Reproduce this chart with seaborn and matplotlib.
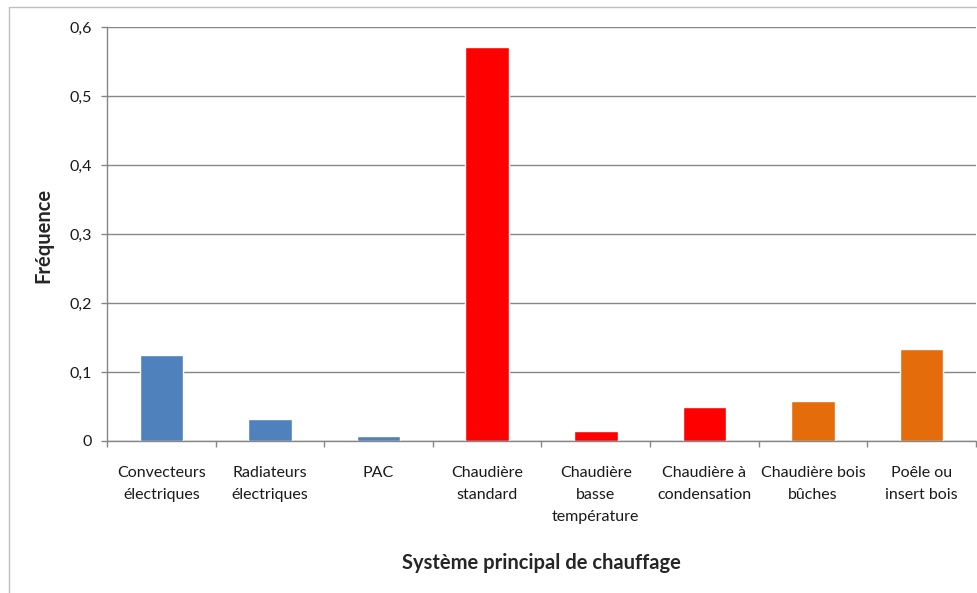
import matplotlib
matplotlib.use("Agg")
import matplotlib.pyplot as plt
from matplotlib.ticker import FuncFormatter, FixedLocator
from matplotlib.lines import Line2D
import seaborn as sns
import pandas as pd

categories = ["Convecteurs\nélectriques", "Radiateurs\nélectriques", "PAC",
              "Chaudière\nstandard", "Chaudière\nbasse\ntempérature",
              "Chaudière à\ncondensation", "Chaudière bois\nbûches",
              "Poêle ou\ninsert bois"]
values = [0.125, 0.032, 0.007, 0.571, 0.015, 0.049, 0.058, 0.133]
colors = ["#4F81BD", "#4F81BD", "#4F81BD", "#FF0000", "#FF0000", "#FF0000",
          "#E46C0A", "#E46C0A"]
yticks = [0, 0.1, 0.2, 0.3, 0.4, 0.5, 0.6]

sns.set_style("white")
plt.rcParams['font.family'] = ['Lato', 'DejaVu Sans']

df = pd.DataFrame({"cat": categories, "val": values})

fig = plt.figure(figsize=(9.78, 5.93), dpi=100)
ax = fig.add_axes([107/978, (593-441)/593, (976-107)/978, (441-27)/593])

sns.barplot(data=df, x="cat", y="val", hue="cat", palette=colors,
            legend=False, width=0.4, ax=ax, saturation=1)

ax.set_xlim(-0.5, len(categories) - 0.5)
ax.set_ylim(0, 0.6)
ax.set_yticks(yticks)
ax.yaxis.set_major_formatter(FuncFormatter(lambda v, p: ("%g" % v).replace(".", ",")))
gc = "#868686"
ax.yaxis.grid(True, color=gc, linewidth=1)
ax.set_axisbelow(True)
for s in ["top", "right"]:
    ax.spines[s].set_visible(False)
for s in ["left", "bottom"]:
    ax.spines[s].set_color(gc)
    ax.spines[s].set_linewidth(1)

ax.tick_params(axis="y", which="major", left=True, length=4, width=1, color=gc,
               pad=7, labelsize=11.5, labelcolor="#1a1a1a")
ax.tick_params(axis="x", which="major", bottom=False, length=0, pad=18,
               labelsize=11.5, labelcolor="#1a1a1a")
ax.xaxis.set_minor_locator(FixedLocator([i - 0.5 for i in range(len(categories) + 1)]))
ax.tick_params(axis="x", which="minor", bottom=True, length=4, width=1, color=gc)
for lbl in ax.get_xticklabels():
    lbl.set_linespacing(1.75)
    lbl.set_verticalalignment("top")

ax.set_xlabel("Système principal de chauffage", fontsize=14.5, fontweight="bold",
              va="center")
ax.xaxis.set_label_coords((541-107)/869, (441-563)/414)
ax.set_ylabel("Fréquence", fontsize=14.5, fontweight="bold", va="center")
ax.yaxis.set_label_coords((43-107)/869, (441-235)/414)

# chart border
bc = "#BFBFBF"
fig.add_artist(Line2D([8.5/978, 976/978], [1 - 6.5/593, 1 - 6.5/593],
                      transform=fig.transFigure, color=bc, linewidth=1))
fig.add_artist(Line2D([8.5/978, 8.5/978], [0, 1 - 6.5/593],
                      transform=fig.transFigure, color=bc, linewidth=1))

fig.savefig("out.png", dpi=100)
